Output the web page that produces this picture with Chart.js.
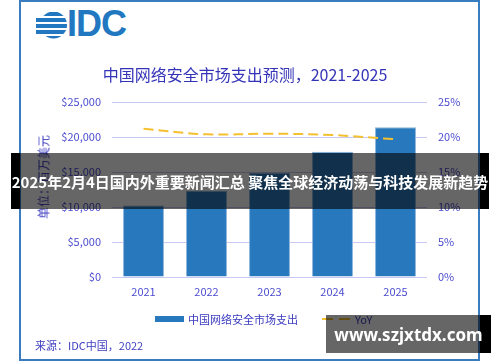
<!DOCTYPE html>
<html lang="zh-CN">
<head>
<meta charset="UTF-8">
<title>中国网络安全市场支出预测，2021-2025</title>
<script src="https://cdn.jsdelivr.net/npm/chart.js"></script>
<style>
  html, body { margin: 0; padding: 0; background: #fff; }
  body { width: 500px; height: 362px; position: relative; overflow: hidden; font-family: 'Noto Sans CJK SC', sans-serif; }
  #chart { position: absolute; left: 0; top: 0; }
  .frame { position: absolute; left: 19px; top: 0; width: 461px; height: 361px; border: 2px solid #3a7cc0; box-sizing: border-box; }
  .logo { position: absolute; left: 36px; top: 11px; }
  .logo-text { position: absolute; left: 67px; top: 6px; font: bold 36px/36px 'Liberation Sans', Arial, sans-serif; color: #2178c0; letter-spacing: -1px; }
  .y-title { position: absolute; left: 43px; top: 177px; transform: translate(-50%, -50%) rotate(-90deg); font-size: 12px; color: #3a3ac0; white-space: nowrap; }
  .legend { position: absolute; left: 155px; top: 310px; height: 18px; display: flex; align-items: center; font-size: 11px; color: #3a3ac0; white-space: nowrap; }
  .legend .box { width: 29px; height: 6px; background: #2878bd; margin-right: 4px; }
  .legend .dash { width: 29px; height: 2px; margin-left: 24px; margin-right: 4px; background: repeating-linear-gradient(to right, #f4c030 0 11px, transparent 11px 17px); }
  .source { position: absolute; left: 35px; top: 337px; font-size: 11px; color: #4040c0; white-space: nowrap; }
  .banner { position: absolute; left: 11px; top: 153px; width: 478px; height: 56px; display: flex; align-items: center; justify-content: center; color: #fff; font-weight: bold; font-size: 15px; white-space: nowrap;
    background: linear-gradient(to right, #000 9px, rgba(0,0,0,0.6) 9px, rgba(0,0,0,0.6) 469px, #000 469px); }
  .watermark { position: absolute; left: 326px; top: 315px; width: 165px; height: 38px; display: flex; align-items: center; justify-content: center; color: #fff; font: bold 17px 'Noto Sans', sans-serif;
    background: linear-gradient(to right, rgba(0,0,0,0.6) 154px, #000 154px); }
</style>
</head>
<body>
  <div class="frame"></div>
  <svg class="logo" width="32" height="29" viewBox="0 0 32 29">
    <defs>
      <clipPath id="disc"><circle cx="17.5" cy="14" r="13.5"/></clipPath>
    </defs>
    <g fill="#2178c0">
      <g clip-path="url(#disc)">
        <rect x="0" y="1" width="32" height="4"/>
        <rect x="0" y="7" width="32" height="4"/>
        <rect x="0" y="13" width="32" height="4"/>
        <rect x="0" y="19" width="32" height="4"/>
        <rect x="0" y="25" width="32" height="4"/>
      </g>
      <rect x="0" y="7" width="10" height="4"/>
      <rect x="0" y="13" width="8" height="4"/>
      <rect x="0" y="19" width="10" height="4"/>
    </g>
  </svg>
  <div class="logo-text">IDC</div>

  <canvas id="chart" width="500" height="362"></canvas>

  <div class="y-title">单位：百万美元</div>
  <div class="legend">
    <span class="box"></span><span>中国网络安全市场支出</span>
    <span class="dash"></span><span>YoY</span>
  </div>
  <div class="source">来源：IDC中国，2022</div>

  <div class="banner">2025年2月4日国内外重要新闻汇总 聚焦全球经济动荡与科技发展新趋势</div>
  <div class="watermark">www.szjxtdx.com</div>

<script>
  const years = ['2021', '2022', '2023', '2024', '2025'];
  const spending = [10220, 12330, 14900, 17900, 21400];   // 百万美元
  const yoyGrowth = [21.2, 20.4, 20.5, 20.3, 19.7];      // %
  const spendMax = 25000, spendStep = 5000;
  const pctMax = 25, pctStep = 5;

  const fontFamily = "'Noto Sans CJK SC', sans-serif";
  const tickColor = '#4a4ad0';

  new Chart(document.getElementById('chart'), {
    data: {
      labels: years,
      datasets: [
        {
          type: 'line',
          label: 'YoY',
          data: yoyGrowth,
          yAxisID: 'y1',
          borderColor: '#f4c030',
          borderWidth: 2,
          borderDash: [10, 5],
          pointRadius: 0,
          tension: 0.35,
          order: 0
        },
        {
          type: 'bar',
          label: '中国网络安全市场支出',
          data: spending,
          yAxisID: 'y',
          backgroundColor: '#2878bd',
          borderColor: '#8db5dc',
          borderWidth: 1,
          barPercentage: 0.65,
          categoryPercentage: 1,
          order: 1
        }
      ]
    },
    options: {
      responsive: false,
      animation: false,
      layout: { padding: { left: 10, right: 20, top: 0, bottom: 0 } },
      plugins: {
        legend: { display: false },
        tooltip: { enabled: false },
        title: {
          display: true,
          text: '中国网络安全市场支出预测，2021-2025',
          color: '#3434b8',
          font: { family: fontFamily, size: 16, weight: 'normal' },
          padding: { top: 65, bottom: 18 }
        }
      },
      scales: {
        x: {
          grid: { display: false, drawTicks: false },
          border: { display: false },
          ticks: { color: tickColor, font: { family: fontFamily, size: 11 }, padding: 8 },
          afterFit: s => { s.height = 85; }
        },
        y: {
          position: 'left',
          min: 0,
          max: spendMax,
          grid: { color: '#c8c8f2', drawTicks: false },
          border: { display: false },
          ticks: {
            stepSize: spendStep,
            padding: 11,
            color: tickColor,
            font: { family: fontFamily, size: 11 },
            callback: v => '$' + v.toLocaleString('en-US')
          },
          afterFit: s => { s.width = 102; }
        },
        y1: {
          position: 'right',
          min: 0,
          max: pctMax,
          grid: { display: false, drawTicks: false },
          border: { display: false },
          ticks: {
            stepSize: pctStep,
            padding: 11,
            color: tickColor,
            font: { family: fontFamily, size: 11 },
            callback: v => v + '%'
          },
          afterFit: s => { s.width = 53; }
        }
      }
    }
  });
</script>
</body>
</html>
